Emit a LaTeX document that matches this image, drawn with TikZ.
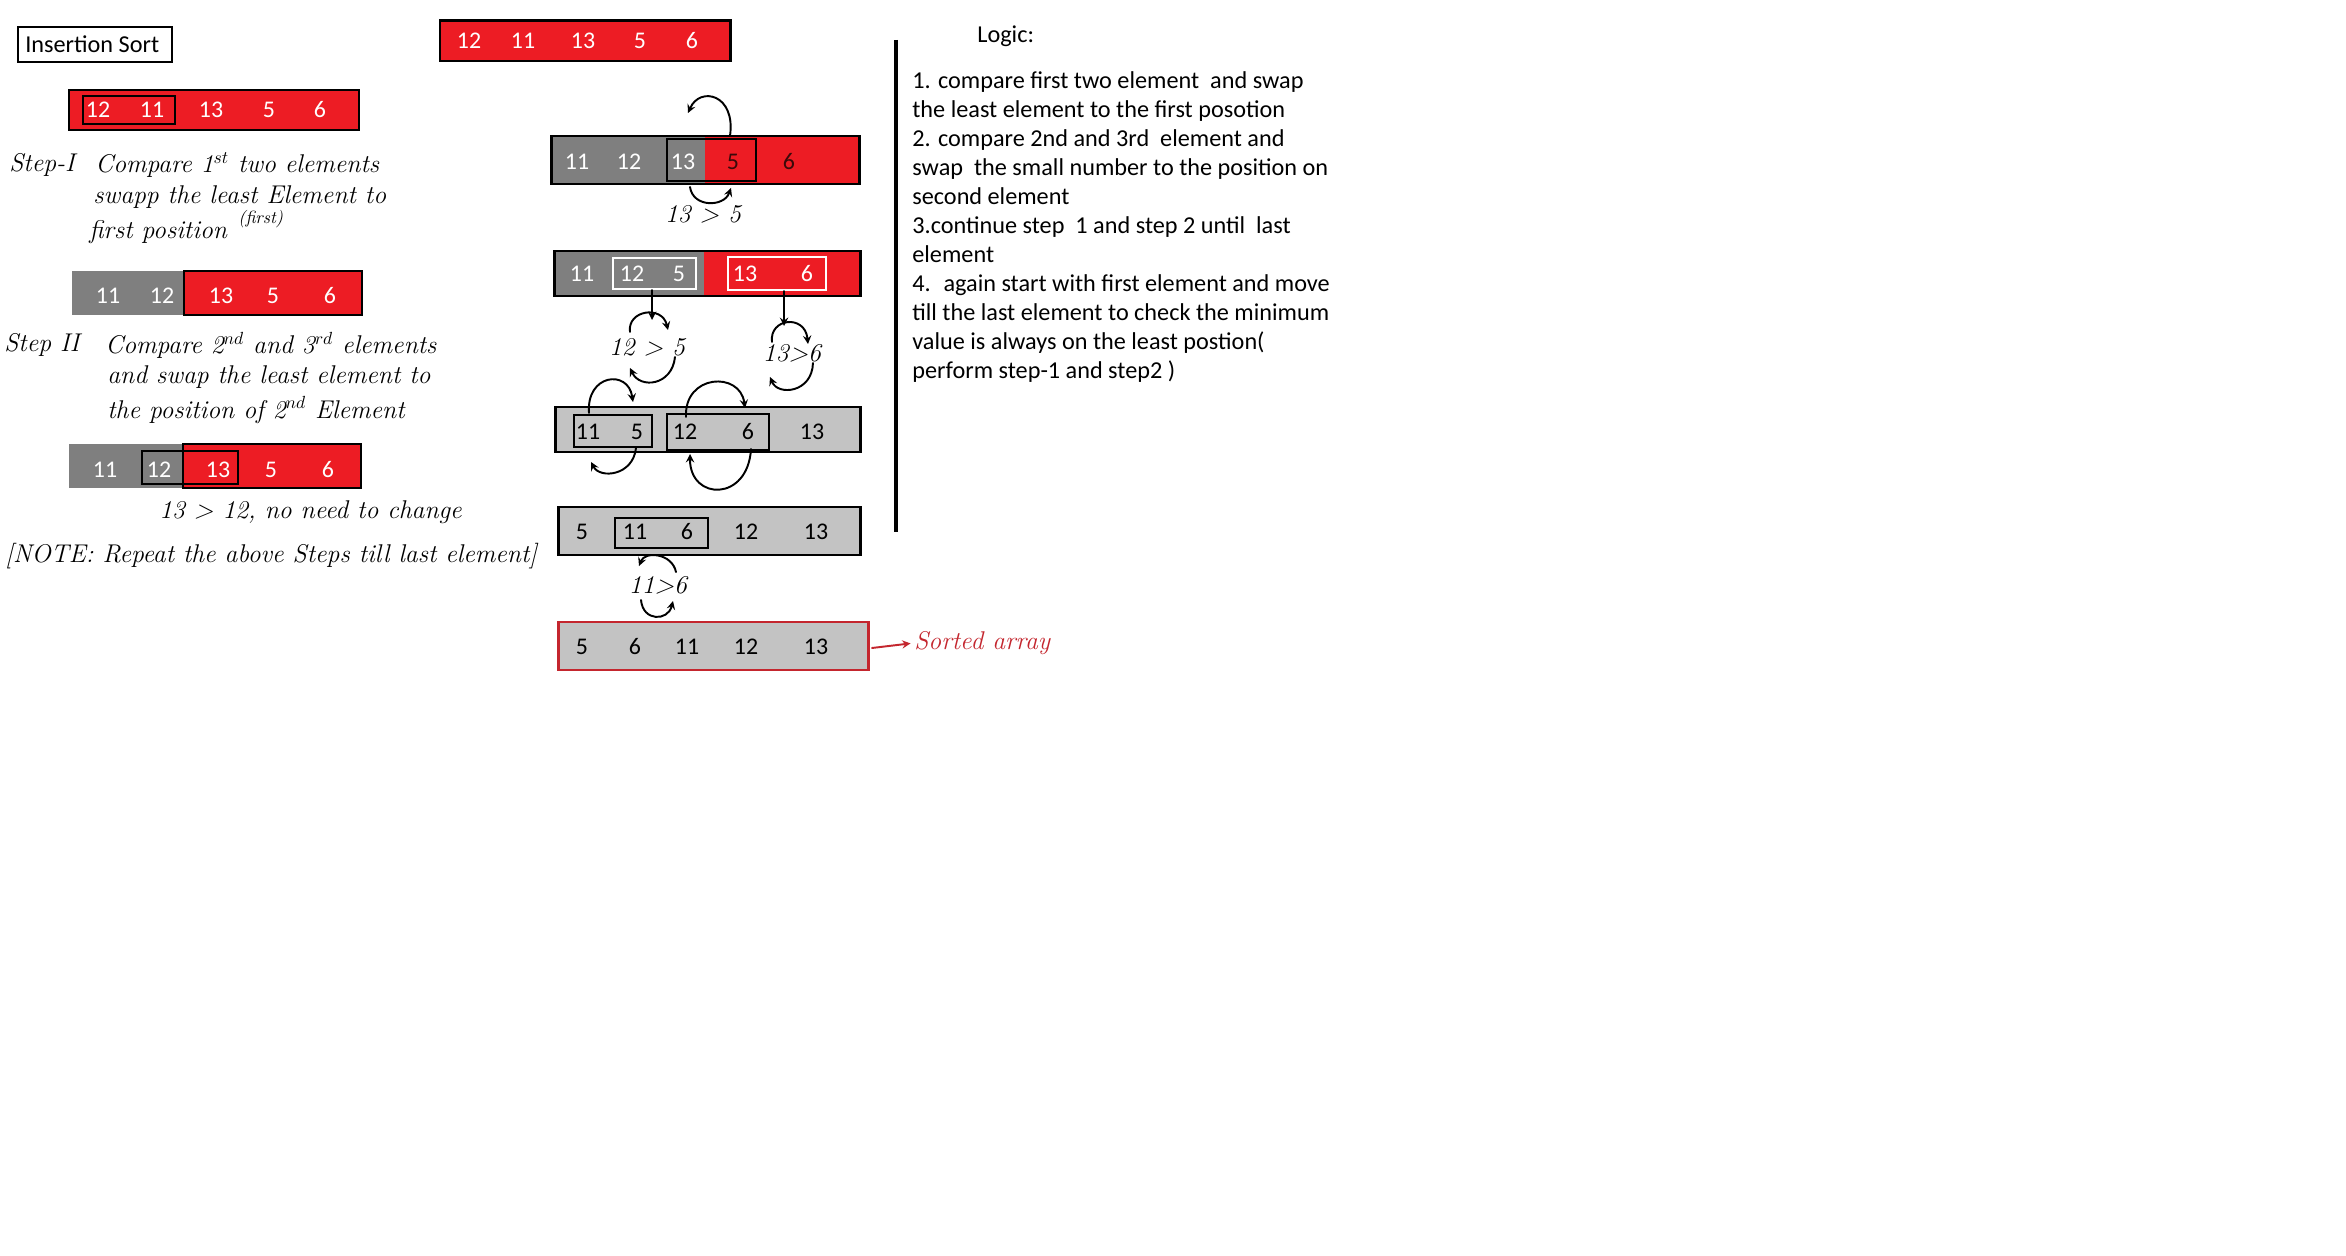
\documentclass[tikz,border=0pt]{standalone}
\usepackage{fontspec}
\newfontfamily\calibri{Carlito}
\usetikzlibrary{arrows,calc}
\definecolor{cellred}{HTML}{ED1C24}
\definecolor{cellgray}{HTML}{7F7F7F}
\definecolor{celllight}{HTML}{C3C3C3}
\definecolor{sortred}{HTML}{C4262E}
\definecolor{darknum}{HTML}{3A0A0A}
\tikzset{
  num/.style={font=\calibri\fontsize{13.6}{16}\selectfont, text=white, inner sep=0pt},
  blacknum/.style={num, text=black},
  typed/.style={font=\calibri\fontsize{13.8}{16}\selectfont, inner sep=0pt},
  hand/.style={font=\itshape\fontsize{14.6}{18}\selectfont, inner sep=0pt},
  cellborder/.style={draw=black, line width=1.7pt},
  pairline/.style={line width=1.6pt},
  stroke/.style={line width=1.1pt, line cap=round, ->, >=stealth}
}
\begin{document}
\begin{tikzpicture}[x=0.02cm,y=-0.02cm]
\useasboundingbox[fill=white] (0,0) rectangle (2346,1256);

% title
\draw[line width=1.5pt] (18,27) rectangle (172,62);
\node[typed, anchor=west] (title) at (25,44) {Insertion Sort};

% ---- left column ----
\fill[cellred] (440,21) rectangle (730,61);
\draw[cellborder] (440,21) rectangle (730,61);
\foreach \v/\x [count=\i] in {12/469,11/523,13/583,5/640,6/692}
  \node[num] (a0n\i) at (\x,41) {\v};

\fill[cellred] (69,90) rectangle (359,130);
\draw[cellborder] (69,90) rectangle (359,130);
\draw[pairline] (83,96) rectangle (175,124);
\foreach \v/\x [count=\i] in {12/98,11/152,13/211,5/269,6/320}
  \node[num] (a1n\i) at (\x,110) {\v};

\node[hand, anchor=west] (step1) at (9,165) {Step-I};
\node[hand, anchor=west] (step1a) at (95,165) {Compare 1$^{st}$ two elements};
\node[hand, anchor=west] (step1b) at (93,197) {swapp the least Element to};
\node[hand, anchor=west] (step1c) at (89,232) {first position};
\node[hand, anchor=west, font=\itshape\fontsize{10}{12}\selectfont] (step1d) at (238,219) {(first)};

\fill[cellgray] (72,271) rectangle (184,315);
\fill[cellred] (184,271) rectangle (362,315);
\draw[cellborder] (184,271) rectangle (362,315);
\foreach \v/\x [count=\i] in {11/108,12/162,13/221,5/273,6/330}
  \node[num] (a2n\i) at (\x,296) {\v};

\node[hand, anchor=west] (step2) at (4,345) {Step II};
\node[hand, anchor=west] (step2a) at (105,345) {Compare 2$^{nd}$ and 3$^{rd}$ elements};
\node[hand, anchor=west] (step2b) at (107,377) {and swap the least element to};
\node[hand, anchor=west] (step2c) at (107,410) {the position of 2$^{nd}$ Element};

\fill[cellgray] (69,444) rectangle (183,488);
\fill[cellred] (183,444) rectangle (361,488);
\draw[cellborder] (183,444) rectangle (361,488);
\draw[pairline] (142,451) rectangle (238,484);
\foreach \v/\x [count=\i] in {11/105,12/159,13/218,5/271,6/328}
  \node[num] (a3n\i) at (\x,470) {\v};

\node[hand, anchor=west] (nochange) at (159,512) {13 > 12, no need to change};
\node[hand, anchor=west] (note) at (5,556) {[NOTE: Repeat the above Steps till last element]};

% ---- middle column ----
\fill[cellgray] (551,136) rectangle (705,184);
\fill[cellred] (705,136) rectangle (859,184);
\draw[cellborder] (551,136) rectangle (859,184);
\draw[pairline] (667,139) rectangle (756,181);
\foreach \v/\x [count=\i] in {11/577,12/629,13/683}
  \node[num] (b1n\i) at (\x,162) {\v};
\node[num, text=darknum] (b1n4) at (733,162) {5};
\node[num, text=darknum] (b1n5) at (789,162) {6};

\draw[stroke] (730,136) .. controls (736,94) and (700,86) .. (688,113);
\draw[stroke] (690,187) .. controls (693,208) and (724,207) .. (731,188);
\node[hand] (cmpA) at (703,214) {13 > 5};

\fill[cellgray] (554,251) rectangle (704,296);
\fill[cellred] (704,251) rectangle (860,296);
\draw[cellborder] (554,251) rectangle (860,296);
\draw[pairline, white] (613,258) rectangle (696,289);
\draw[pairline, white] (728,257) rectangle (826,290);
\foreach \v/\x [count=\i] in {11/582,12/632,5/679,13/745,6/807}
  \node[num] (b2n\i) at (\x,274) {\v};

\coordinate (dropA) at (652,290);
\coordinate (dropB) at (784,291);
\node[hand] (cmpB) at (647,347) {12 > 5};
\node[hand] (cmpC) at (792,353) {13>6};
\draw[stroke] (dropA) -- (dropA |- 0,320);
\draw[stroke] (dropB) -- (dropB |- 0,326);
\draw[stroke] (630,332) .. controls (627,310) and (662,305) .. (668,330);
\draw[stroke] (675,357) .. controls (672,386) and (640,389) .. (630,368);
\draw[stroke] (772,342) .. controls (769,318) and (805,314) .. (808,344);
\draw[stroke] (813,363) .. controls (812,393) and (778,396) .. (770,377);

\fill[celllight] (555,407) rectangle (860,452);
\draw[cellborder] (555,407) rectangle (860,452);
\draw[pairline] (574,415) rectangle (652,447);
\draw[pairline] (667,414) rectangle (769,450);
\foreach \v/\x [count=\i] in {11/588,5/637,12/685,6/748,13/812}
  \node[blacknum] (b3n\i) at (\x,432) {\v};

\draw[stroke] (589,413) .. controls (586,374) and (628,369) .. (633,402);
\draw[stroke] (636,448) .. controls (633,476) and (600,479) .. (591,462);
\draw[stroke] (686,417) .. controls (684,374) and (740,371) .. (745,408);
\draw[stroke] (751,449) .. controls (748,502) and (690,501) .. (690,454);

\fill[celllight] (558,507) rectangle (860,555);
\draw[cellborder] (558,507) rectangle (860,555);
\draw[pairline] (615,518) rectangle (708,548);
\foreach \v/\x [count=\i] in {5/582,11/635,6/687,12/746,13/816}
  \node[blacknum] (b4n\i) at (\x,532) {\v};

\node[hand] (cmpD) at (658,585) {11>6};
\draw[stroke] (676,572) .. controls (672,553) and (645,551) .. (639,566);
\draw[stroke] (641,600) .. controls (643,622) and (668,621) .. (673,601);

\fill[celllight] (558,622) rectangle (868,670);
\draw[draw=sortred, line width=1.7pt] (558,622) rectangle (868,670);
\foreach \v/\x [count=\i] in {5/582,6/635,11/687,12/746,13/816}
  \node[blacknum] (b5n\i) at (\x,647) {\v};

\coordinate (b5out) at (872,648);
\node[hand, anchor=west, text=sortred] (sorted) at (914,643) {Sorted array};
\draw[stroke, sortred, shorten >=2pt] (b5out) -- (sorted.west);

% ---- right column ----
\draw[line width=2pt] (896,40) -- (896,532);
\node[typed, anchor=base west] (logic) at (977,43) {Logic:};
\foreach \t [count=\i] in {1. compare first two element~ and swap,
  the least element to the first posotion,
  2. compare 2nd and 3rd~ element and,
  swap~ the small number to the position on,
  second element,
  3.continue step~ 1 and step 2 until~ last,
  element,
  4.~ again start with first element and move,
  till the last element to check the minimum,
  value is always on the least postion(,
  perform step-1 and step2 )}
  \node[typed, anchor=base west] (logic\i) at (912,60+29*\i) {\t};

\end{tikzpicture}
\end{document}
